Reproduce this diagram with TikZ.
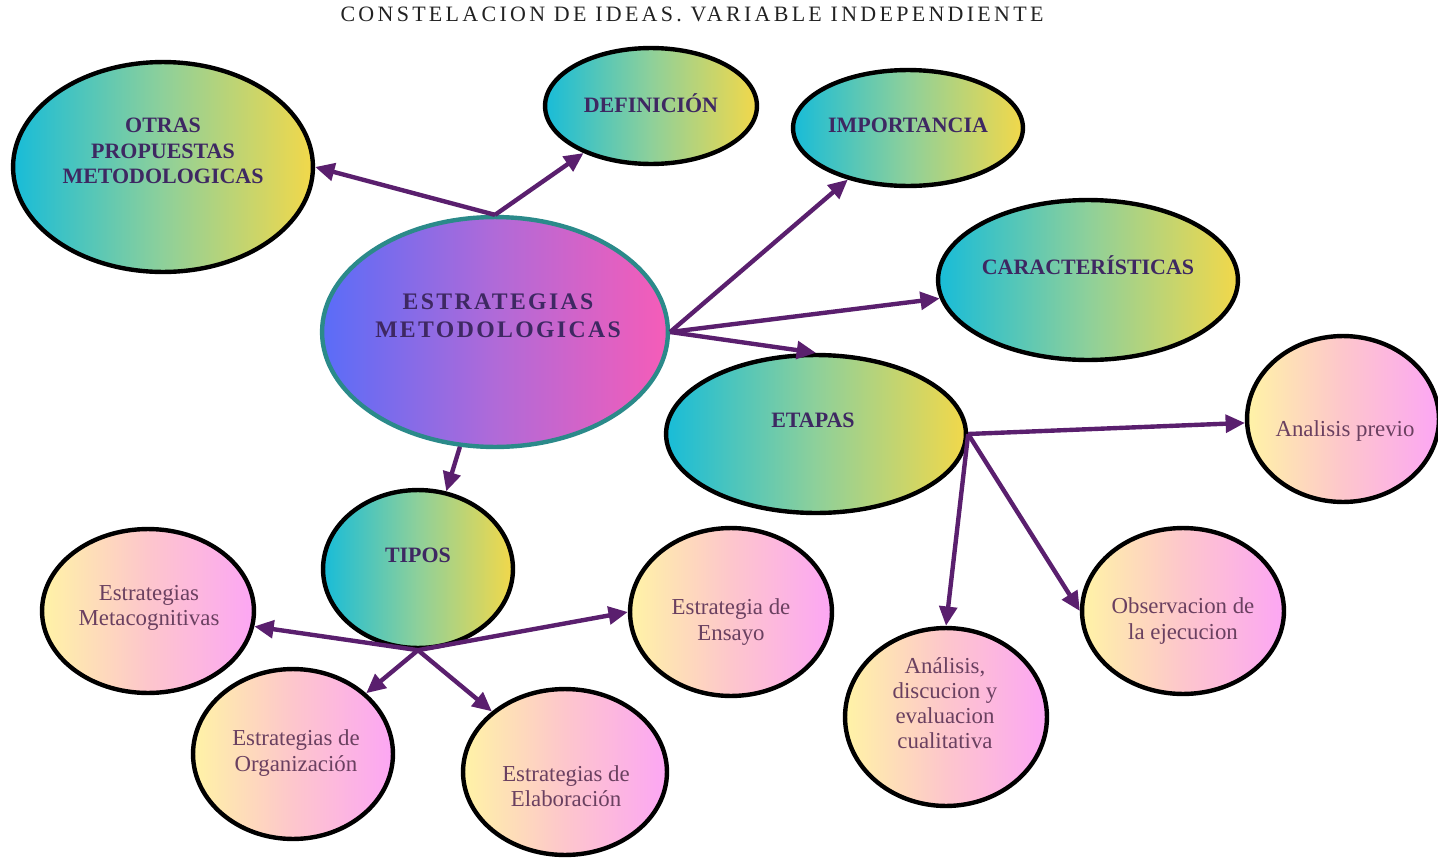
\documentclass[tikz,border=0pt]{standalone}
\usepackage{fontspec}
\setmainfont{Liberation Serif}
\usetikzlibrary{arrows.meta,shapes.geometric}
\definecolor{arrowc}{HTML}{5A1F6E}
\definecolor{cyL}{HTML}{18BCD8}
\definecolor{cyM}{HTML}{8ED09A}
\definecolor{cyR}{HTML}{F2D84A}
\definecolor{ceL}{HTML}{5A6CF8}
\definecolor{ceM}{HTML}{B06AD8}
\definecolor{ceR}{HTML}{F65CB8}
\definecolor{ceB}{HTML}{2B8A8A}
\definecolor{paL}{HTML}{FFF3A6}
\definecolor{paM}{HTML}{FDC6CC}
\definecolor{paR}{HTML}{FCA6F4}
\definecolor{boldc}{HTML}{3E2862}
\definecolor{pastc}{HTML}{6A4060}
\definecolor{titc}{HTML}{222222}
\tikzset{
  bubble/.style={ellipse, draw=black, line width=2.5pt, inner sep=0pt},
  sz/.style 2 args={minimum width={#1*0.04cm}, minimum height={#2*0.04cm}},
  cyb/.style={bubble, left color=cyL, right color=cyR, middle color=cyM},
  pab/.style={bubble, left color=paL, right color=paR, middle color=paM},
  ceb/.style={bubble, draw=ceB, left color=ceL, right color=ceR, middle color=ceM},
  bt/.style={font=\fontsize{12.5}{14.5}\selectfont\bfseries, text=boldc, align=center, inner sep=0pt},
  ct/.style={font=\fontsize{13.5}{15.9}\selectfont\bfseries\addfontfeature{LetterSpace=10}, text=boldc, align=center, inner sep=0pt},
  pt/.style={font=\fontsize{13}{14.3}\selectfont, text=pastc, align=center, inner sep=0pt},
  tt/.style={font=\fontsize{12.5}{14}\selectfont\addfontfeature{LetterSpace=15}, text=titc, inner sep=0pt},
  arr/.style={draw=arrowc, line width=2.5pt, -{Triangle[length=11pt,width=10pt]}}
}
\begin{document}
\begin{tikzpicture}[x=0.02cm,y=-0.02cm]
\fill[white] (0,0) rectangle (1438,859);
\useasboundingbox (0,0) rectangle (1438,859);
\node[tt] (title) at (692,14) {CONSTELACION DE IDEAS. VARIABLE INDEPENDIENTE};
% gradient nodes
\node[cyb, sz={150}{105}] (otras) at (163,167) {};
\node[bt] (otrasT) at (163,151) {OTRAS\\PROPUESTAS\\METODOLOGICAS};
\node[cyb, sz={106}{58}] (def) at (651,106) {};
\node[bt] (defT) at (651,103) {DEFINICIÓN};
\node[cyb, sz={115}{58}] (imp) at (908,128) {};
\node[bt] (impT) at (908,125) {IMPORTANCIA};
\node[cyb, sz={150}{80}] (car) at (1088,280) {};
\node[bt] (carT) at (1088,265) {CARACTERÍSTICAS};
\node[ceb, sz={173}{115}] (cen) at (495,332) {};
\node[ct] (cenT) at (498,316) {ESTRATEGIAS\\METODOLOGICAS};
\node[cyb, sz={150}{79}] (eta) at (816,434) {};
\node[bt] (etaT) at (813,420) {ETAPAS};
\node[cyb, sz={95}{79}] (tip) at (418,569) {};
\node[bt] (tipT) at (418,555) {TIPOS};
% pastel nodes
\node[pab, sz={96}{83}] (pre) at (1343,419) {};
\node[pt] (preT) at (1345,431) {Analisis previo};
\node[pab, sz={106}{82}] (meta) at (148,611) {};
\node[pt] (metaT) at (149,608) {Estrategias\\Metacognitivas};
\node[pab, sz={101}{84}] (ens) at (731,612) {};
\node[pt] (ensT) at (731,622) {Estrategia de\\Ensayo};
\node[pab, sz={100}{85}] (org) at (293,754) {};
\node[pt] (orgT) at (296,753) {Estrategias de\\Organización};
\node[pab, sz={102}{83}] (ela) at (565,772) {};
\node[pt] (elaT) at (566,786) {Estrategias de\\Elaboración};
\node[pab, sz={101}{89}] (dis) at (946,717) {};
\node[pt] (disT) at (945,703) {Análisis,\\discucion y\\evaluacion\\cualitativa};
\node[pab, sz={101}{83}] (obs) at (1183,611) {};
\node[pt] (obsT) at (1183,621) {Observacion de\\la ejecucion};
% connectors
\draw[arr] (cen.north) -- (otras.east);
\draw[arr] (cen.north) -- (def);
\draw[arr] (cen.east) -- (imp);
\draw[arr] (cen.east) -- (car);
\draw[arr] (cen.east) -- (eta.north);
\draw[arr] (cen.253) -- (tip.70);
\draw[arr] (tip.south) -- (meta);
\draw[arr] (tip.south) -- (ens.west);
\draw[arr] (tip.south) -- (org);
\draw[arr] (tip.south) -- (ela);
\draw[arr] (eta.east) -- (pre);
\draw[arr] (eta.east) -- (dis.north);
\draw[arr] (eta.east) -- (obs.west);
\end{tikzpicture}
\end{document}
